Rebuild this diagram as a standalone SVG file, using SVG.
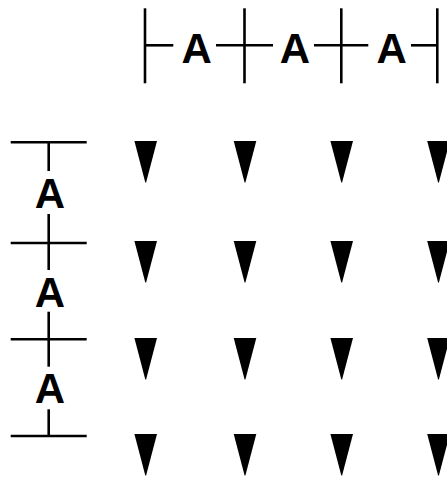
<svg xmlns="http://www.w3.org/2000/svg" xmlns:xlink="http://www.w3.org/1999/xlink" width="447" height="478" viewBox="0 0 447 478">
<style>
.dim{stroke:#000;stroke-width:2.6;fill:none}
.lbl{font-family:"Liberation Sans",Arial,sans-serif;font-weight:bold;font-size:42px;fill:#000;text-anchor:middle}
.tri{fill:#000}
</style>
<defs>
<path id="tri" class="tri" d="M-11.3,0 L11.3,0 L0.4,41.5 L-0.4,41.5 Z"/>
</defs>
<rect width="447" height="478" fill="#fff"/>
<g id="connectors">
<line class="dim" x1="145" y1="8.3" x2="145" y2="83.3"/>
<line class="dim" x1="244.5" y1="8.3" x2="244.5" y2="83.3"/>
<line class="dim" x1="341.3" y1="8.3" x2="341.3" y2="83.3"/>
<line class="dim" x1="437.3" y1="8.3" x2="437.3" y2="83.3"/>
<line class="dim" x1="145" y1="45.3" x2="173.3" y2="45.3"/>
<line class="dim" x1="216" y1="45.3" x2="273" y2="45.3"/>
<line class="dim" x1="314" y1="45.3" x2="368.3" y2="45.3"/>
<line class="dim" x1="411" y1="45.3" x2="437.3" y2="45.3"/>
<line class="dim" x1="10.7" y1="142.2" x2="86.7" y2="142.2"/>
<line class="dim" x1="10.7" y1="243" x2="86.7" y2="243"/>
<line class="dim" x1="10.7" y1="339.3" x2="86.7" y2="339.3"/>
<line class="dim" x1="10.7" y1="436" x2="86.7" y2="436"/>
<line class="dim" x1="48.7" y1="142.2" x2="48.7" y2="171"/>
<line class="dim" x1="48.7" y1="214" x2="48.7" y2="270"/>
<line class="dim" x1="48.7" y1="311.7" x2="48.7" y2="366.7"/>
<line class="dim" x1="48.7" y1="409.3" x2="48.7" y2="436"/>
</g>
<g id="label-top-1"><text class="lbl" x="196.7" y="62.6">A</text></g>
<g id="label-top-2"><text class="lbl" x="295" y="62.6">A</text></g>
<g id="label-top-3"><text class="lbl" x="391.7" y="62.6">A</text></g>
<g id="label-left-1"><text class="lbl" x="50" y="207.7">A</text></g>
<g id="label-left-2"><text class="lbl" x="50" y="306.7">A</text></g>
<g id="label-left-3"><text class="lbl" x="50" y="403.3">A</text></g>
<g id="markers">
<g id="row1">
<use xlink:href="#tri" x="145.7" y="141"/>
<use xlink:href="#tri" x="245" y="141"/>
<use xlink:href="#tri" x="341.7" y="141"/>
<use xlink:href="#tri" x="438.5" y="141"/>
</g>
<g id="row2">
<use xlink:href="#tri" x="145.7" y="241"/>
<use xlink:href="#tri" x="245" y="241"/>
<use xlink:href="#tri" x="341.7" y="241"/>
<use xlink:href="#tri" x="438.5" y="241"/>
</g>
<g id="row3">
<use xlink:href="#tri" x="145.7" y="338"/>
<use xlink:href="#tri" x="245" y="338"/>
<use xlink:href="#tri" x="341.7" y="338"/>
<use xlink:href="#tri" x="438.5" y="338"/>
</g>
<g id="row4">
<use xlink:href="#tri" x="145.7" y="434"/>
<use xlink:href="#tri" x="245" y="434"/>
<use xlink:href="#tri" x="341.7" y="434"/>
<use xlink:href="#tri" x="438.5" y="434"/>
</g>
</g>
</svg>
